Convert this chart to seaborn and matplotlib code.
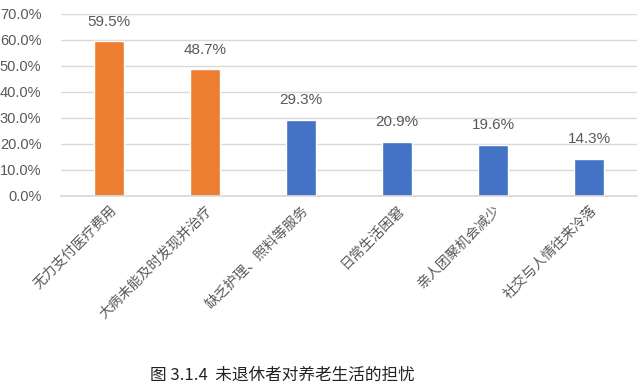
import matplotlib
matplotlib.use("Agg")
import matplotlib.pyplot as plt
import seaborn as sns
from matplotlib.ticker import PercentFormatter

# data
categories = ["无力支付医疗费用", "大病未能及时发现并治疗", "缺乏护理、照料等服务",
              "日常生活困窘", "亲人团聚机会减少", "社交与人情往来冷落"]
values = [0.595, 0.487, 0.293, 0.209, 0.196, 0.143]
bar_colors = ["#ED7D31", "#ED7D31", "#4472C4", "#4472C4", "#4472C4", "#4472C4"]
caption = "图 3.1.4  未退休者对养老生活的担忧"

sns.set_theme(style="white")
plt.rcParams["font.family"] = ["Liberation Sans", "Noto Sans CJK SC", "DejaVu Sans"]

fig = plt.figure(figsize=(6.41, 3.88), dpi=100)
ax = fig.add_axes([0.095, 0.495, 0.899, 0.469])

sns.barplot(x=categories, y=values, hue=categories, palette=bar_colors,
            width=0.31, legend=False, ax=ax, saturation=1)

ax.set_ylim(0, 0.7)
ax.set_yticks([i / 10 for i in range(8)])
ax.yaxis.set_major_formatter(PercentFormatter(1.0, decimals=1))
ax.grid(axis="y", color="#d9d9d9", linewidth=1)
ax.set_axisbelow(True)
for s in ["top", "right", "left"]:
    ax.spines[s].set_visible(False)
ax.spines["bottom"].set_color("#d9d9d9")
ax.tick_params(axis="both", length=0, colors="#595959")
ax.tick_params(axis="y", labelsize=10.5, pad=14)

ax.set_xticks(range(len(categories)))
ax.set_xticklabels(categories, rotation=45, ha="right", rotation_mode="anchor",
                   fontsize=10, color="#595959", family=["Noto Sans CJK SC", "DejaVu Sans"])
ax.tick_params(axis="x", pad=5)

for i, v in enumerate(values):
    ax.annotate(f"{v * 100:.1f}%", (i, v), xytext=(0, 9), textcoords="offset points",
                ha="center", va="bottom", fontsize=11, color="#595959")

fig.text(282 / 641, 1 - 375 / 388, caption, ha="center", va="center", fontsize=12,
         color="#222222", family=["Noto Sans CJK SC", "DejaVu Sans"])

fig.savefig("out.png", dpi=100)
